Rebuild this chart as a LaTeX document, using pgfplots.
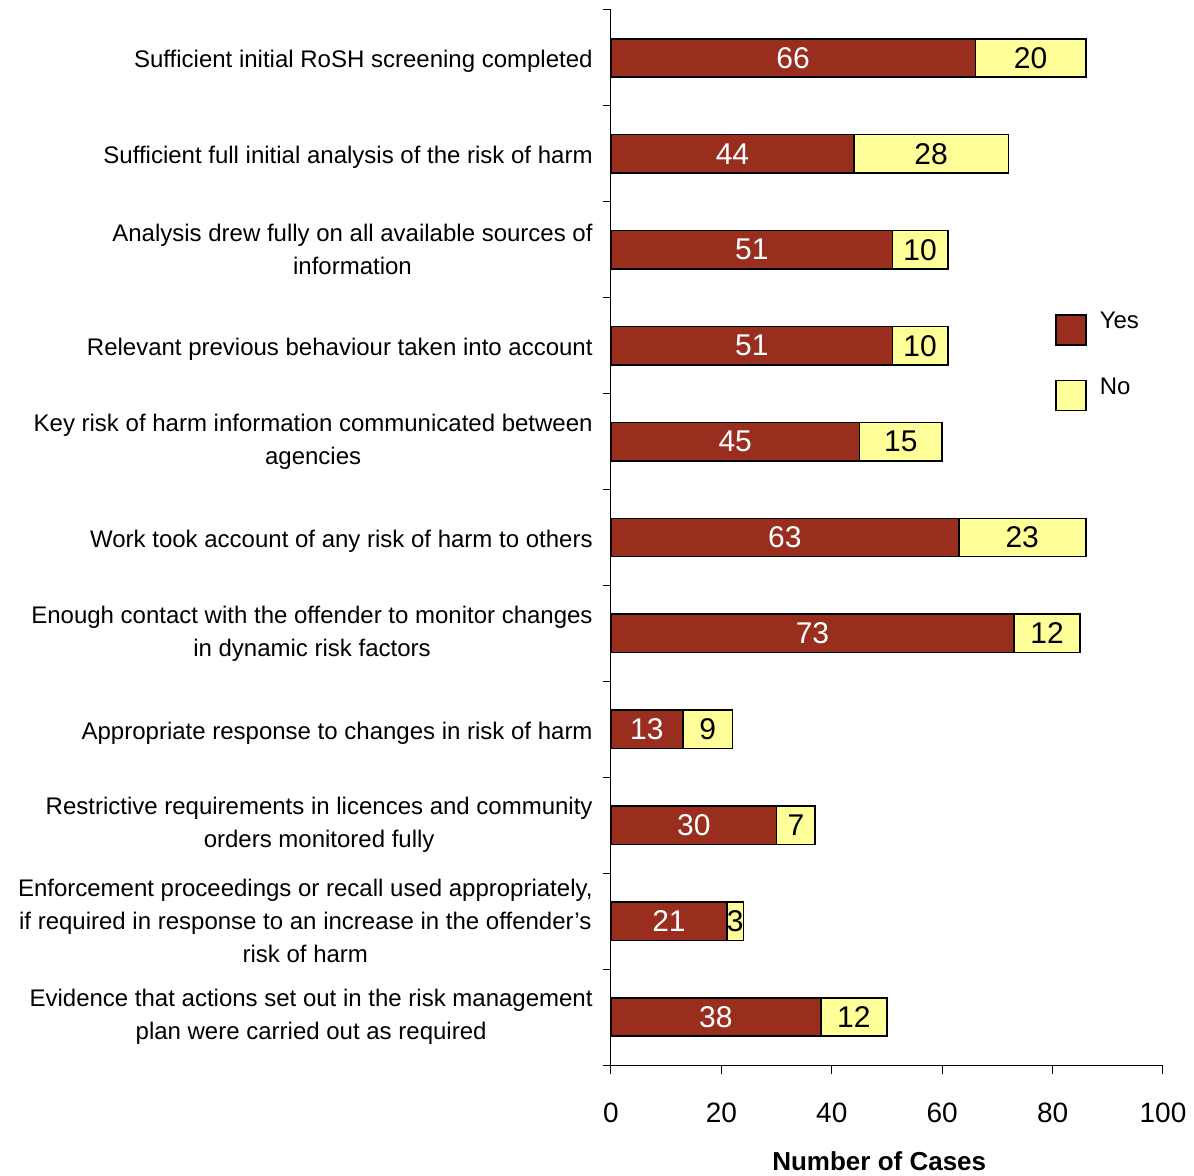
\documentclass[border=0pt]{standalone}
\usepackage{pgfplots}
\pgfplotsset{compat=1.18}
\usepackage{pgfplotstable}
\usepackage{fontspec}
\setmainfont{Liberation Sans}
\definecolor{yescol}{RGB}{153,45,30}
\definecolor{nocol}{RGB}{255,255,153}
\newcommand{\one}[1]{\raisebox{0pt}[9.8pt][0pt]{#1}}
\pgfplotstableread{
idx yes no
0 66 20
1 44 28
2 51 10
3 51 10
4 45 15
5 63 23
6 73 12
7 13 9
8 30 7
9 21 3
10 38 12
}\data
\begin{document}
\begin{tikzpicture}
\pgfplotsset{
  common/.style={
    width=276pt, height=527.5pt, scale only axis,
    xmin=0, xmax=100, ymin=-0.5, ymax=10.5, y dir=reverse,
    at={(0,0)}, anchor=south west,
  }
}
\begin{axis}[common,
  xbar stacked, bar width=0.4,
  axis lines*=left,
  axis line style={black, line width=0.5pt},
  /pgf/number format/assume math mode=true,
  xtick={0,20,...,100},
  tick align=outside,
  major tick length=4.5pt,
  minor tick length=4pt,
  tick style={black, line width=0.5pt},
  major y tick style={draw=none},
  ytick={0,...,10},
  minor ytick={-0.5,0.5,...,10.5},
  yticklabels={
    {\one{Sufficient initial RoSH screening completed}},
    {\one{Sufficient full initial analysis of the risk of harm}},
    {Analysis drew fully on all available sources of\\information},
    {\one{Relevant previous behaviour taken into account}},
    {Key risk of harm information communicated between\\agencies},
    {\one{Work took account of any risk of harm to others}},
    {Enough contact with the offender to monitor changes\\in dynamic risk factors},
    {\one{Appropriate response to changes in risk of harm}},
    {Restrictive requirements in licences and community\\orders monitored fully},
    {Enforcement proceedings or recall used appropriately,\\if required in response to an increase in the offender’s\\risk of harm},
    {Evidence that actions set out in the risk management\\plan were carried out as required}
  },
  yticklabel style={align=center, inner sep=0pt, xshift=-4.5pt,
    font=\fontsize{12}{16.5}\selectfont},
  xticklabel style={font=\fontsize{14}{14}\selectfont, yshift=-11pt},
  xlabel={Number of Cases},
  xlabel style={font=\fontsize{13}{14}\selectfont\bfseries,
    at={(axis description cs:0.486,0)}, anchor=center, yshift=-48pt},
  legend style={draw=none, fill=none, at={(0.804,0.714)}, anchor=north west,
    inner sep=0pt, row sep=15pt, font=\fontsize{12}{13}\selectfont,
    nodes={inner sep=0pt}},
  legend cell align=left,
  legend image code/.code={\draw[#1, line width=0.8pt] (0pt,-7.5pt) rectangle (15pt,7.5pt);},
]
\addplot[fill=yescol, draw=black, line width=0.8pt] table[x=yes, y=idx]{\data};
\addlegendentry{\raisebox{8pt}{\hspace{6.5pt}Yes}}
\addplot[fill=nocol, draw=black, line width=0.8pt] table[x=no, y=idx]{\data};
\addlegendentry{\raisebox{8pt}{\hspace{6.5pt}No}}
\end{axis}
\begin{axis}[common, hide axis, clip=false]
\addplot[draw=none, nodes near coords, point meta=explicit symbolic,
  every node near coord/.style={anchor=center, text=white, font=\fontsize{15}{15}\selectfont}]
  table[x expr=\thisrow{yes}/2, y=idx, meta=yes]{\data};
\addplot[draw=none, nodes near coords, point meta=explicit symbolic,
  every node near coord/.style={anchor=center, text=black, font=\fontsize{15}{15}\selectfont}]
  table[x expr=\thisrow{yes}+\thisrow{no}/2, y=idx, meta=no]{\data};
\end{axis}
\pgfresetboundingbox
\useasboundingbox (-305.5pt,-55.5pt) rectangle (291.5pt,532.5pt);
\end{tikzpicture}
\end{document}
